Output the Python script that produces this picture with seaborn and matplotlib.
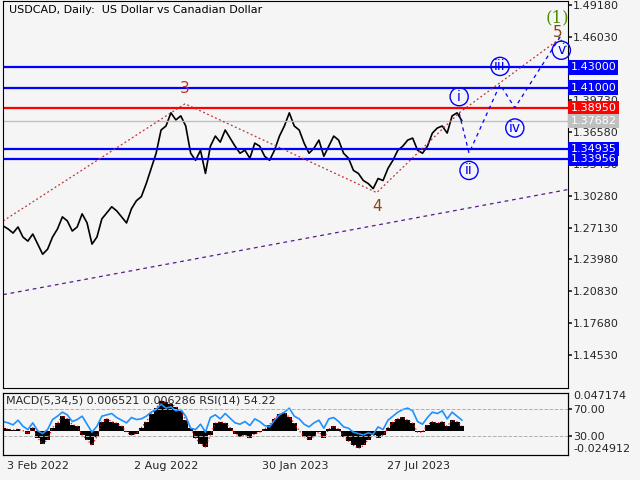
import pandas as pd
import numpy as np
import matplotlib
matplotlib.use("Agg")
import matplotlib.pyplot as plt
import seaborn as sns

# weekly closes, USDCAD
prices = [1.273, 1.270, 1.266, 1.272, 1.262, 1.258, 1.265, 1.255, 1.245, 1.250,
          1.262, 1.270, 1.282, 1.278, 1.268, 1.272, 1.285, 1.276, 1.255, 1.262,
          1.280, 1.286, 1.292, 1.288, 1.282, 1.276, 1.290, 1.298, 1.302, 1.315,
          1.330, 1.345, 1.368, 1.372, 1.385, 1.378, 1.382, 1.372, 1.345, 1.338,
          1.348, 1.325, 1.352, 1.362, 1.356, 1.368, 1.360, 1.352, 1.345, 1.348,
          1.340, 1.355, 1.352, 1.342, 1.338, 1.348, 1.362, 1.372, 1.385, 1.372,
          1.368, 1.355, 1.345, 1.350, 1.358, 1.342, 1.352, 1.362, 1.358, 1.345,
          1.340, 1.328, 1.325, 1.318, 1.315, 1.310, 1.320, 1.318, 1.330, 1.338,
          1.348, 1.352, 1.358, 1.360, 1.348, 1.345, 1.352, 1.365, 1.370, 1.372,
          1.365, 1.382, 1.385, 1.377]
macd = [0.003, 0.002, 0.001, 0.002, 0.000, -0.004, 0.004, -0.010, -0.018, -0.012,
        0.004, 0.010, 0.020, 0.016, 0.008, 0.006, -0.006, -0.012, -0.020, -0.008,
        0.012, 0.016, 0.012, 0.010, 0.006, -0.002, -0.006, -0.004, 0.004, 0.012,
        0.022, 0.030, 0.040, 0.038, 0.036, 0.032, 0.026, 0.014, 0.004, -0.010,
        -0.018, -0.022, -0.006, 0.010, 0.012, 0.010, 0.004, -0.004, -0.008, -0.006,
        -0.010, -0.004, -0.002, 0.002, 0.008, 0.016, 0.022, 0.024, 0.018, 0.010,
        0.000, -0.008, -0.012, -0.008, -0.002, -0.010, 0.002, 0.006, 0.002, -0.008,
        -0.014, -0.020, -0.024, -0.020, -0.012, -0.006, -0.010, -0.006, 0.004, 0.012,
        0.016, 0.018, 0.014, 0.010, -0.002, -0.002, 0.008, 0.012, 0.010, 0.012,
        0.006, 0.014, 0.012, 0.0065]
rsi = [52, 50, 47, 54, 45, 40, 50, 38, 34, 40,
       55, 60, 66, 62, 52, 55, 60, 48, 36, 45,
       60, 62, 64, 58, 54, 50, 58, 55, 56, 60,
       66, 70, 78, 72, 74, 68, 70, 60, 42, 40,
       48, 36, 58, 62, 56, 64, 57, 50, 48, 52,
       46, 56, 52, 46, 44, 54, 62, 66, 72, 60,
       56, 48, 44, 50, 54, 42, 56, 58, 52, 44,
       42, 36, 34, 32, 35, 33, 44, 40, 54, 60,
       66, 70, 72, 68, 52, 48, 58, 66, 64, 68,
       56, 66, 60, 54]
dates = pd.date_range("2022-01-28", periods=len(prices), freq="7D")

levels = [1.43000, 1.41000, 1.38950, 1.34935, 1.33956]
level_colors = ["#0000ff", "#0000ff", "#ff0000", "#0000ff", "#0000ff"]
current = 1.37682

# wave marks (date, price)
red_dates = ["2022-01-28", "2022-10-13", "2023-07-12", "2023-11-06", "2024-03-23"]
red_prices = [1.278, 1.394, 1.306, 1.385, 1.456]
blue_dates = ["2023-11-06", "2023-11-20", "2024-01-03", "2024-01-24", "2024-03-30"]
blue_prices = [1.385, 1.345, 1.413, 1.390, 1.462]
blue_labels = ["i", "ii", "iii", "iv", "v"]
label_prices = [1.401, 1.328, 1.431, 1.370, 1.447]
trend_dates = ["2022-01-28", "2024-04-08"]
trend_prices = [1.205, 1.309]
price_ticks = [1.49180, 1.46030, 1.42880, 1.39730, 1.36580, 1.33430, 1.30280,
               1.27130, 1.23980, 1.20830, 1.17680, 1.14530]
macd_ticks = [0.047174, -0.024912]
date_ticks = ["2022-02-03", "2022-08-02", "2023-01-30", "2023-07-27"]
date_labels = ["3 Feb 2022", "2 Aug 2022", "30 Jan 2023", "27 Jul 2023"]

bg = "#f5f5f5"
sns.set_theme(style="white", rc={"axes.facecolor": bg, "figure.facecolor": bg,
                                 "font.family": "DejaVu Sans"})
fig = plt.figure(figsize=(6.4, 4.8), dpi=100)
ax = fig.add_axes([0.005, 0.192, 0.882, 0.806])
ax2 = fig.add_axes([0.005, 0.052, 0.882, 0.13])
xmin, xmax = pd.Timestamp("2022-01-28"), pd.Timestamp("2024-04-08")

df = pd.DataFrame({"date": dates, "price": prices, "macd": macd, "rsi": rsi})
sns.lineplot(data=df, x="date", y="price", ax=ax, color="black", lw=1.2)
for lv, c in zip(levels, level_colors):
    ax.axhline(lv, color=c, lw=1.6)
ax.axhline(current, color="#c0c0c0", lw=1)
ax.plot(pd.to_datetime(red_dates), red_prices, color="#c03030", ls=(0, (1.5, 2)), lw=0.9)
ax.plot(pd.to_datetime(blue_dates), blue_prices, color="#0000ff", ls=(0, (3, 3)), lw=0.9)
ax.plot(pd.to_datetime(trend_dates), trend_prices, color="#551a8b", ls=(0, (3, 3)), lw=0.9)
ax.plot(pd.to_datetime(["2024-03-26", "2024-04-08"]), [1.460, 1.449], color="green", ls=":", lw=1)
for d, p, t in zip(blue_dates, label_prices, blue_labels):
    ax.text(pd.Timestamp(d), p, t, color="#0000ff", fontsize=10, ha="center", va="center",
            bbox=dict(boxstyle="circle,pad=0.15", fc="none", ec="#0000ff", lw=1))
ax.text(pd.Timestamp("2022-10-13"), 1.405, "3", color="#c03030", fontsize=11, ha="center")
ax.text(pd.Timestamp("2023-07-12"), 1.288, "4", color="#8b4513", fontsize=11, ha="center")
ax.text(pd.Timestamp("2024-03-25"), 1.460, "5", color="#8b4513", fontsize=11, ha="center")
ax.text(pd.Timestamp("2024-03-25"), 1.475, "(1)", color="#4f8f00", fontsize=12,
        ha="center", family="DejaVu Serif")
ax.text(0.01, 0.99, "USDCAD, Daily:  US Dollar vs Canadian Dollar", transform=ax.transAxes,
        fontsize=8, va="top", color="black")

ax.set_xlim(xmin, xmax)
ax.set_ylim(1.1127, 1.4958)
ax.yaxis.tick_right()
ax.set_yticks(price_ticks)
ax.set_yticklabels([f"{v:.5f}" for v in price_ticks], fontsize=8)
ax.set_xticks([])
ax.set_xlabel("")
ax.set_ylabel("")
for lv, c in zip(levels + [current], level_colors + ["#c0c0c0"]):
    ax.text(1.005, (lv - 1.1127) / (1.4958 - 1.1127), f"{lv:.5f}", transform=ax.transAxes,
            fontsize=8, color="white", va="center", ha="left",
            bbox=dict(boxstyle="square,pad=0.2", fc=c, ec="none"))

# MACD / RSI panel
ax2.bar(df["date"], df["macd"], width=7, color="black", linewidth=0)
ax2.plot(df["date"], df["macd"], color="red", ls=":", lw=0.9)
ax2.set_ylim(-0.0329, 0.0512)
ax2.set_xlim(xmin, xmax)
ax2.set_yticks([])
ax3 = ax2.twinx()
sns.lineplot(data=df, x="date", y="rsi", ax=ax3, color="#1e90ff", lw=1.2)
ax3.set_ylim(1.9, 95.2)
ax3.axhline(70, color="#b0b0b0", ls="--", lw=0.7)
ax3.axhline(30, color="#b0b0b0", ls="--", lw=0.7)
ax3.set_yticks([70, 30])
ax3.set_yticklabels(["70.00", "30.00"], fontsize=8)
ax3.set_ylabel("")
ax3.set_xlabel("")
for v in macd_ticks:
    ax2.annotate(f"{v:.6f}", xy=(1, v), xycoords=("axes fraction", "data"),
                 xytext=(4, 0), textcoords="offset points", fontsize=8, va="center")
ax2.set_xticks(pd.to_datetime(date_ticks))
ax2.set_xticklabels(date_labels, fontsize=8, ha="left")
ax3.tick_params(axis="both", length=3, pad=1)
ax2.tick_params(axis="both", length=3, pad=1)
ax.tick_params(axis="y", length=3, pad=1)
ax2.text(0.005, 0.95, "MACD(5,34,5) 0.006521 0.006286 RSI(14) 54.22", transform=ax2.transAxes,
         fontsize=8, va="top")
for a in (ax, ax2, ax3):
    for s in a.spines.values():
        s.set_color("black")
        s.set_linewidth(0.8)

fig.savefig("out.png", dpi=100, facecolor=bg)
